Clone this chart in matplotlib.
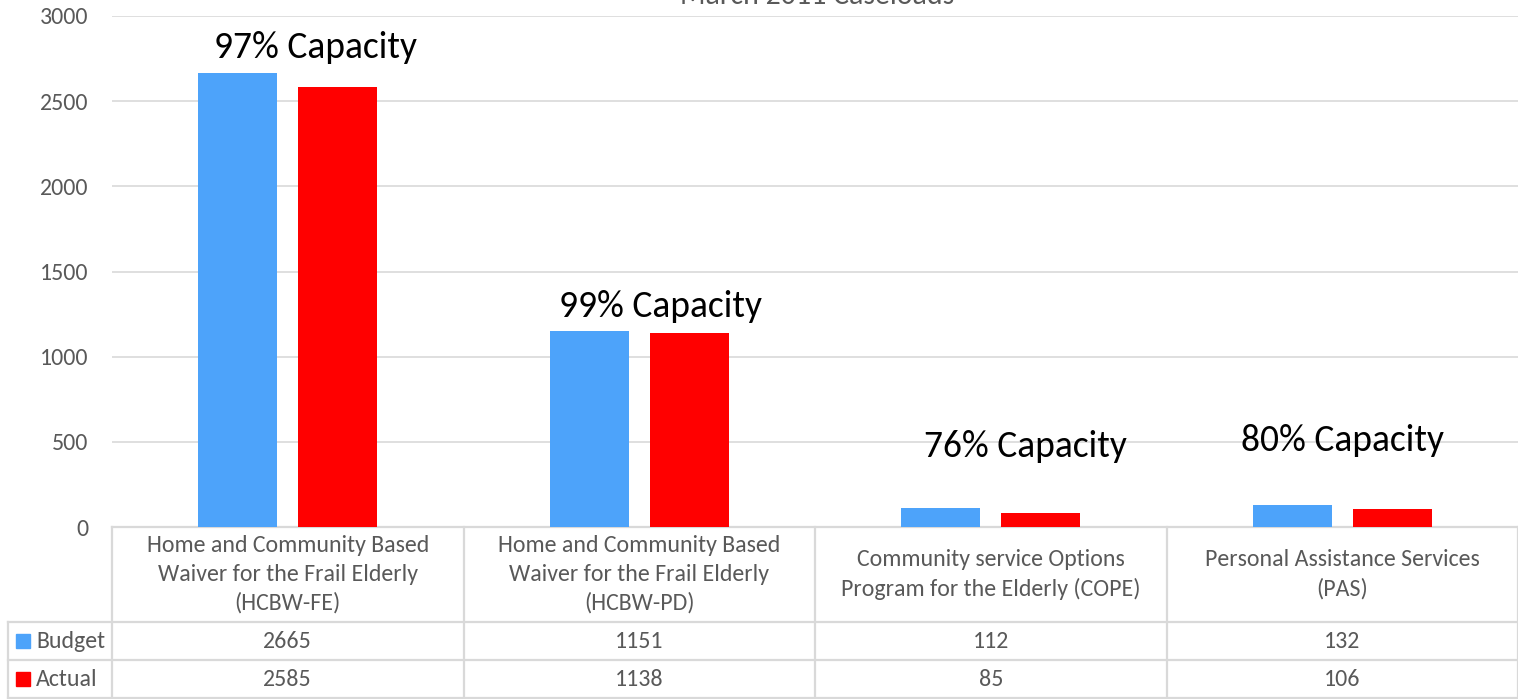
import matplotlib

matplotlib.use("Agg")
import matplotlib.pyplot as plt
from matplotlib.patches import Rectangle
import matplotlib.transforms as mtransforms

plt.rcParams["font.family"] = ["Carlito", "Lato", "DejaVu Sans"]

# --- data ---------------------------------------------------------------
categories = [
    "Home and Community Based\nWaiver for the Frail Elderly\n(HCBW-FE)",
    "Home and Community Based\nWaiver for the Frail Elderly\n(HCBW-PD)",
    "Community service Options\nProgram for the Elderly (COPE)",
    "Personal Assistance Services\n(PAS)",
]
budget = [2665, 1151, 112, 132]
actual = [2585, 1138, 85, 106]
capacity_labels = ["97% Capacity", "99% Capacity", "76% Capacity", "80% Capacity"]
capacity_y = [2815, 1295, 470, 505]
capacity_dx = [0.08, 0.06, 0.10, 0.0]

BLUE = "#4DA3FA"
RED = "#FF0000"
GRID = "#D9D9D9"
TXT = "#595959"
FS = 17.2

W, H = 1518, 699
fig = plt.figure(figsize=(W / 100, H / 100), dpi=100)
ax = fig.add_axes([112 / W, (H - 527) / H, (W - 112) / W, (527 - 16) / H])

x = list(range(len(categories)))
bw = 0.225
off = 0.142
ax.bar([i - off for i in x], budget, width=bw, color=BLUE, zorder=3)
ax.bar([i + off for i in x], actual, width=bw, color=RED, zorder=3)

for i, lab in enumerate(capacity_labels):
    ax.text(i + capacity_dx[i], capacity_y[i], lab, ha="center", va="center",
            fontsize=27, color="black", zorder=4)

ax.set_xlim(-0.5, len(categories) - 0.5)
ax.set_ylim(0, 3000)
ax.set_yticks(range(0, 3001, 500))
ax.tick_params(axis="y", length=0, pad=17, labelsize=FS, labelcolor=TXT)
ax.set_xticks([])
ax.grid(axis="y", color=GRID, lw=1.2, zorder=0)
for s in ax.spines.values():
    s.set_visible(False)

fig.text(0.5 + 58 / W, 1 - 4 / H, "March 2011 Caseloads", ha="center",
         va="baseline", fontsize=21.5, color=TXT)

# --- data table under the plot -------------------------------------------
# x in data coords of the bar axes, y in axes fraction (negative = below)
tr = mtransforms.blended_transform_factory(ax.transData, ax.transAxes)
px = 1.0 / (527 - 16)  # one pixel in axes fraction
y_top = 0.0
y_hdr = -95 * px
y_mid = -133 * px
y_bot = -171 * px
col_w = (W - 112) / len(categories)
x_left = -0.5 - (112 - 8) / col_w
x_end = len(categories) - 0.5
lkw = dict(color=GRID, lw=1.6, transform=tr, clip_on=False)

ax.plot([-0.5, x_end], [y_top, y_top], **lkw)
for yy in (y_hdr, y_mid, y_bot):
    ax.plot([x_left, x_end], [yy, yy], **lkw)
for j in range(len(categories) + 1):
    ax.plot([j - 0.5, j - 0.5], [y_top, y_bot], **lkw)
ax.plot([x_left, x_left], [y_hdr, y_bot], **lkw)

for i, cat in enumerate(categories):
    ax.text(i, (y_top + y_hdr) / 2, cat, ha="center", va="center",
            fontsize=FS, color=TXT, transform=tr, linespacing=1.43)
    ax.text(i, (y_hdr + y_mid) / 2, str(budget[i]), ha="center", va="center",
            fontsize=FS, color=TXT, transform=tr)
    ax.text(i, (y_mid + y_bot) / 2, str(actual[i]), ha="center", va="center",
            fontsize=FS, color=TXT, transform=tr)

# legend keys in the row-label column
for yy0, yy1, name, col in ((y_hdr, y_mid, "Budget", BLUE),
                            (y_mid, y_bot, "Actual", RED)):
    yc = (yy0 + yy1) / 2
    ax.add_patch(Rectangle((x_left + 8 / col_w, yc - 7 * px), 14 / col_w, 14 * px,
                           color=col, transform=tr, clip_on=False))
    ax.text(x_left + 28 / col_w, yc, name, ha="left", va="center",
            fontsize=FS, color=TXT, transform=tr)

fig.savefig("out.png", dpi=100)
